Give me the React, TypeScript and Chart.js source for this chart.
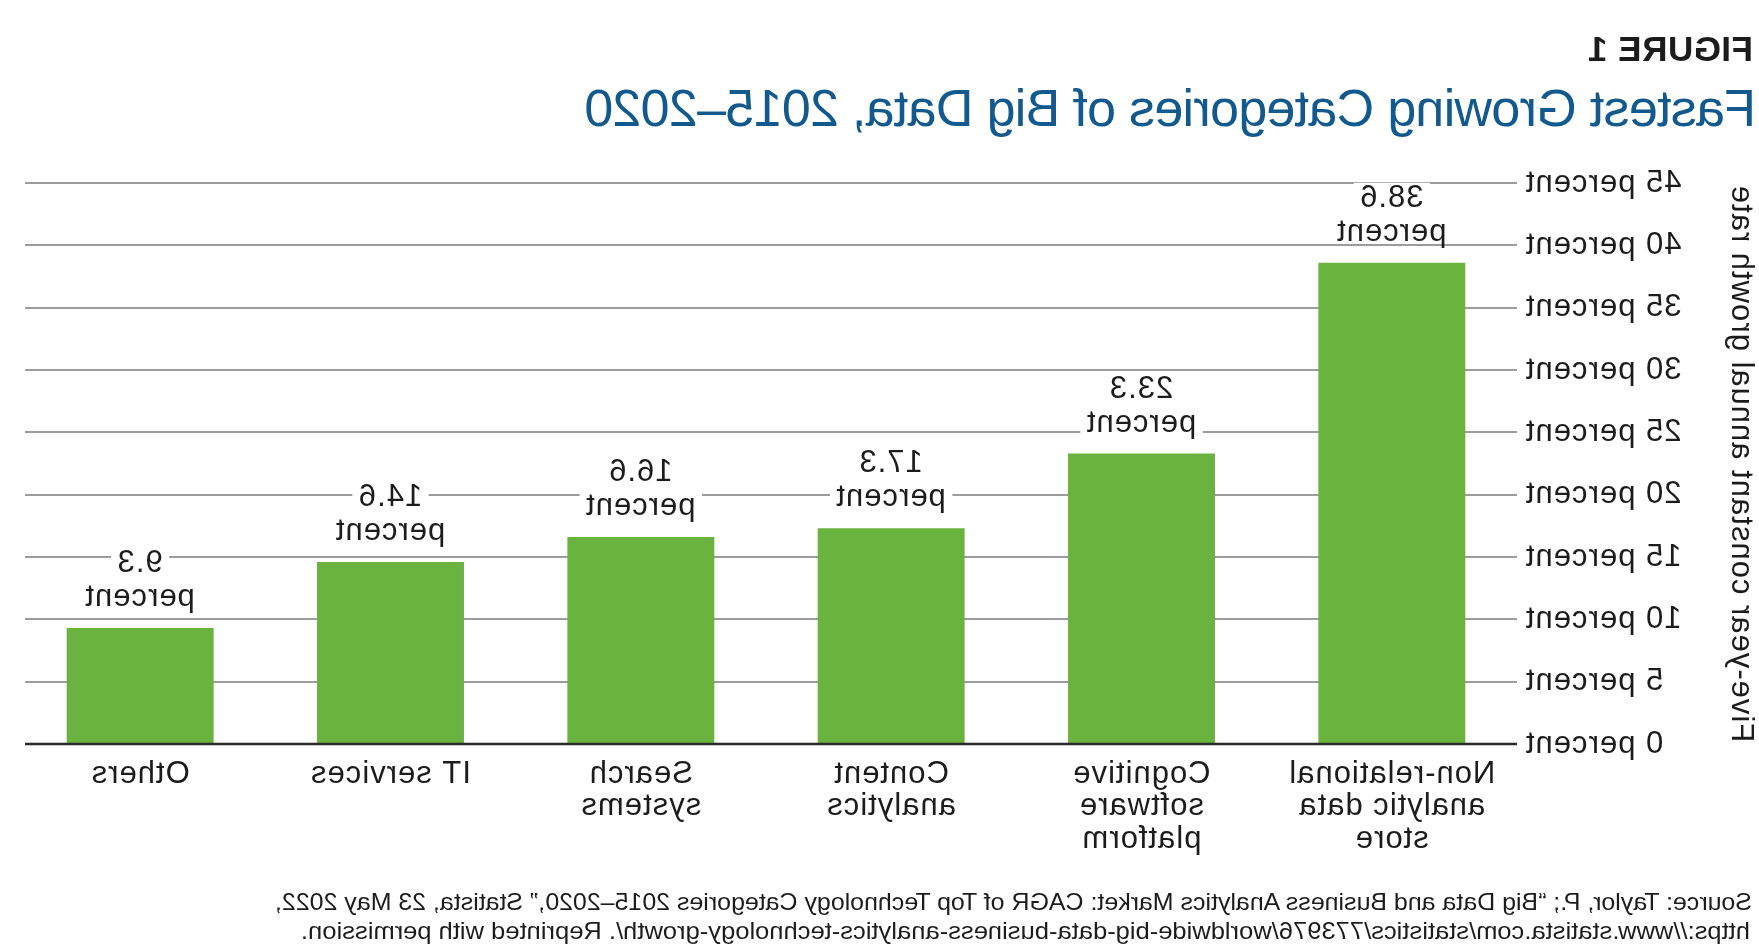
import React, { useEffect, useLayoutEffect, useRef } from "react";
import { Chart, registerables } from "chart.js";

Chart.register(...registerables);

// ---------- data ----------
const categories: string[][] = [
  ["Non-relational", "analytic data", "store"],
  ["Cognitive", "software", "platform"],
  ["Content", "analytics"],
  ["Search", "systems"],
  ["IT services"],
  ["Others"],
];
const growthValues: number[] = [38.6, 23.3, 17.3, 16.6, 14.6, 9.3];
const tickValues: number[] = [0, 5, 10, 15, 20, 25, 30, 35, 40, 45];
const tickSuffix = " percent";
const valueSuffix = "percent";
const axisTitle = "Five-year constant annual growth rate";
const figureLabel = "FIGURE 1";
const chartTitle = "Fastest Growing Categories of Big Data, 2015\u20132020";
const sourceLines: string[] = [
  "Source: Taylor, P.; \u201cBig Data and Business Analytics Market: CAGR of Top Technology Categories 2015\u20132020,\u201d Statista, 23 May 2022,",
  "https://www.statista.com/statistics/773976/worldwide-big-data-business-analytics-technology-growth/. Reprinted with permission.",
];

// ---------- style ----------
const FONT = "'Liberation Sans', Arial, sans-serif";
const TEXT = "#1c1c1c";
const GREEN = "#6bb33f";
const BLUE = "#12598e";
const W = 1759;
const H = 945;
const CANVAS_H = 880;
const AREA_TOP = 183;
const AREA_BOTTOM = 744;
const AREA_LEFT = 242;
const AREA_RIGHT_PAD = 15;
const FS = 31;
const SPACING = "1px";

const spacingPlugin = {
  id: "letterSpacing",
  beforeLayout(chart: any) {
    chart.ctx.letterSpacing = SPACING;
  },
  beforeDraw(chart: any) {
    chart.ctx.letterSpacing = SPACING;
  },
};

const gridPlugin = {
  id: "customGrid",
  beforeDatasetsDraw(chart: any) {
    const { ctx, chartArea } = chart;
    const y = chart.scales.y;
    ctx.save();
    ctx.strokeStyle = "#9c9c9c";
    ctx.lineWidth = 2;
    tickValues.forEach((v) => {
      if (v === 0) return;
      const py = Math.round(y.getPixelForValue(v));
      ctx.beginPath();
      ctx.moveTo(chartArea.left, py);
      ctx.lineTo(chartArea.right - 10, py);
      ctx.stroke();
    });
    ctx.restore();
  },
  afterDatasetsDraw(chart: any) {
    const { ctx, chartArea } = chart;
    const y = chart.scales.y;
    ctx.save();
    const py0 = y.getPixelForValue(0);
    ctx.strokeStyle = "#2a2a2a";
    ctx.lineWidth = 2.5;
    ctx.beginPath();
    ctx.moveTo(chartArea.left, py0);
    ctx.lineTo(chartArea.right - 10, py0);
    ctx.stroke();

    ctx.letterSpacing = SPACING;
    ctx.font = `${FS}px ${FONT}`;
    ctx.textAlign = "center";
    ctx.textBaseline = "alphabetic";
    const meta = chart.getDatasetMeta(0);
    meta.data.forEach((bar: any, i: number) => {
      const lines = [String(growthValues[i]), valueSuffix];
      const baselines = [bar.y - 56, bar.y - 22];
      lines.forEach((txt, k) => {
        const w = ctx.measureText(txt).width;
        ctx.fillStyle = "#ffffff";
        ctx.fillRect(bar.x - w / 2 - 6, baselines[k] - 24, w + 12, 26);
        ctx.fillStyle = TEXT;
        ctx.fillText(txt, bar.x + 0.5, baselines[k]);
      });
    });
    ctx.restore();
  },
};

function FitLine({ text, width, top, left }: { text: string; width: number; top: number; left: number }) {
  const ref = useRef<HTMLSpanElement>(null);
  useLayoutEffect(() => {
    const el = ref.current;
    if (!el) return;
    el.style.transform = "none";
    const natural = el.getBoundingClientRect().width;
    if (natural > 0) el.style.transform = `scaleX(${width / natural})`;
  }, [text, width]);
  return (
    <span
      ref={ref}
      style={{
        position: "absolute",
        left,
        top,
        whiteSpace: "nowrap",
        fontFamily: "'Liberation Sans Narrow', 'Liberation Sans', Arial, sans-serif",
        fontSize: 24,
        lineHeight: 1,
        color: TEXT,
        transformOrigin: "left top",
        display: "inline-block",
      }}
    >
      {text}
    </span>
  );
}

export default function App() {
  const canvasRef = useRef<HTMLCanvasElement>(null);

  useEffect(() => {
    const canvas = canvasRef.current;
    if (!canvas) return;
    const chart = new Chart(canvas, {
      type: "bar",
      data: {
        labels: categories,
        datasets: [
          {
            data: growthValues,
            backgroundColor: GREEN,
            borderWidth: 0,
            barPercentage: 0.587,
            categoryPercentage: 1,
          },
        ],
      },
      options: {
        responsive: false,
        animation: false,
        devicePixelRatio: 1,
        layout: { padding: { top: AREA_TOP, right: AREA_RIGHT_PAD, bottom: 0, left: 0 } },
        plugins: { legend: { display: false }, tooltip: { enabled: false }, title: { display: false } },
        scales: {
          x: {
            grid: { display: false, drawTicks: false },
            border: { display: false },
            ticks: {
              color: TEXT,
              font: { family: FONT, size: FS, lineHeight: 32.5 / FS },
              padding: 14,
              maxRotation: 0,
              autoSkip: false,
            },
            afterFit: (s: any) => {
              s.height = CANVAS_H - AREA_BOTTOM;
            },
          },
          y: {
            min: 0,
            max: 45,
            grid: { display: false, drawTicks: false },
            border: { display: false },
            afterBuildTicks: (s: any) => {
              s.ticks = tickValues.map((v) => ({ value: v }));
            },
            ticks: {
              color: TEXT,
              font: { family: FONT, size: FS },
              padding: 8,
              autoSkip: false,
              callback: (v: any) => `${v}${tickSuffix}`,
            },
            title: {
              display: true,
              text: axisTitle,
              color: TEXT,
              font: { family: FONT, size: FS },
              padding: { top: 0, bottom: 0 },
            },
            afterFit: (s: any) => {
              s.width = AREA_LEFT;
            },
          },
        },
      },
      plugins: [spacingPlugin, gridPlugin],
    });
    return () => chart.destroy();
  }, []);

  return (
    <div
      style={{
        position: "fixed",
        left: 0,
        top: 0,
        width: W,
        height: H,
        background: "#ffffff",
        transform: "scaleX(-1)",
        overflow: "hidden",
      }}
    >
      <div
        style={{
          position: "absolute",
          left: 6,
          top: 31,
          fontFamily: FONT,
          fontWeight: 700,
          fontSize: 35,
          lineHeight: 1,
          letterSpacing: "0.5px",
          color: TEXT,
          whiteSpace: "nowrap",
        }}
      >
        {figureLabel}
      </div>
      <div
        style={{
          position: "absolute",
          left: 3,
          top: 82,
          fontFamily: FONT,
          fontSize: 52,
          lineHeight: 1,
          letterSpacing: "-0.7px",
          color: BLUE,
          whiteSpace: "nowrap",
        }}
      >
        {chartTitle}
      </div>
      <canvas
        ref={canvasRef}
        width={W}
        height={CANVAS_H}
        style={{ position: "absolute", left: 0, top: 0, width: W, height: CANVAS_H }}
      />
      <FitLine text={sourceLines[0]} width={1477} top={890} left={7} />
      <FitLine text={sourceLines[1]} width={1449} top={919} left={9} />
    </div>
  );
}
